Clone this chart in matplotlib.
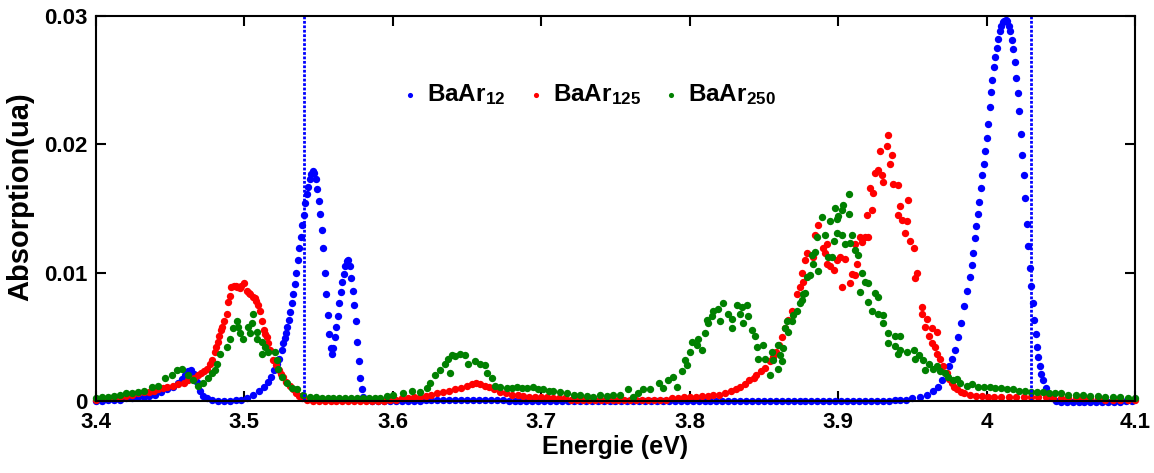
import matplotlib
matplotlib.use("Agg")
import matplotlib.pyplot as plt

plt.rcParams['font.family'] = ['Liberation Sans', 'DejaVu Sans']
plt.rcParams['font.weight'] = 'bold'
plt.rcParams['mathtext.fontset'] = 'custom'
plt.rcParams['mathtext.rm'] = 'Liberation Sans:bold'
plt.rcParams['mathtext.bf'] = 'Liberation Sans:bold'
plt.rcParams['mathtext.default'] = 'bf'

labels = ['BaAr$_{12}$', 'BaAr$_{125}$', 'BaAr$_{250}$']
colors = ['#0000ff', '#ff0000', '#008000']
cut_lines = [3.54, 4.03]
xticks = [3.4, 3.5, 3.6, 3.7, 3.8, 3.9, 4.0, 4.1]
xtick_labels = ['3.4', '3.5', '3.6', '3.7', '3.8', '3.9', '4', '4.1']
yticks = [0, 0.01, 0.02, 0.03]
ytick_labels = ['0', '0.01', '0.02', '0.03']

# BaAr12
blue_e = [
    3.400, 3.404, 3.408, 3.412, 3.416, 3.420, 3.424, 3.428, 3.432, 3.436,
    3.440, 3.444, 3.448, 3.452, 3.455, 3.458, 3.460, 3.462, 3.464, 3.466,
    3.468, 3.470, 3.472, 3.475, 3.478, 3.482, 3.486, 3.490, 3.494, 3.498,
    3.502, 3.506, 3.510, 3.513, 3.516, 3.518, 3.520, 3.522, 3.523, 3.525,
    3.526, 3.527, 3.528, 3.529, 3.530, 3.531, 3.532, 3.533, 3.534, 3.535,
    3.536, 3.537, 3.538, 3.539, 3.540, 3.541, 3.542, 3.543, 3.544, 3.545,
    3.546, 3.547, 3.548, 3.549, 3.550, 3.551, 3.552, 3.553, 3.554, 3.555,
    3.556, 3.557, 3.558, 3.559, 3.560, 3.561, 3.562, 3.563, 3.564, 3.565,
    3.566, 3.567, 3.568, 3.569, 3.570, 3.571, 3.572, 3.573, 3.574, 3.575,
    3.576, 3.577, 3.578, 3.579, 3.580, 3.582, 3.586, 3.590, 3.594, 3.598,
    3.602, 3.606, 3.610, 3.614, 3.618, 3.622, 3.626, 3.630, 3.634, 3.638,
    3.642, 3.646, 3.650, 3.654, 3.658, 3.662, 3.666, 3.670, 3.674, 3.678,
    3.682, 3.686, 3.690, 3.694, 3.698, 3.702, 3.706, 3.710, 3.714, 3.718,
    3.722, 3.726, 3.730, 3.734, 3.738, 3.742, 3.746, 3.750, 3.754, 3.758,
    3.762, 3.766, 3.770, 3.774, 3.778, 3.782, 3.786, 3.790, 3.794, 3.798,
    3.802, 3.806, 3.810, 3.814, 3.818, 3.822, 3.826, 3.830, 3.834, 3.838,
    3.842, 3.846, 3.850, 3.854, 3.858, 3.862, 3.866, 3.870, 3.874, 3.878,
    3.882, 3.886, 3.890, 3.894, 3.898, 3.902, 3.906, 3.910, 3.914, 3.918,
    3.922, 3.926, 3.930, 3.934, 3.938, 3.942, 3.946, 3.950, 3.955, 3.960,
    3.964, 3.967, 3.970, 3.973, 3.975, 3.977, 3.979, 3.981, 3.983, 3.985,
    3.987, 3.989, 3.990, 3.991, 3.992, 3.993, 3.994, 3.995, 3.996, 3.997,
    3.998, 3.999, 4.000, 4.001, 4.002, 4.003, 4.004, 4.005, 4.006, 4.007,
    4.008, 4.009, 4.010, 4.011, 4.012, 4.013, 4.014, 4.015, 4.016, 4.017,
    4.018, 4.019, 4.020, 4.021, 4.022, 4.023, 4.024, 4.025, 4.026, 4.027,
    4.028, 4.029, 4.030, 4.031, 4.032, 4.033, 4.034, 4.035, 4.036, 4.037,
    4.038, 4.040, 4.042, 4.044, 4.047, 4.050, 4.054, 4.058, 4.062, 4.066,
    4.070, 4.074, 4.078, 4.082, 4.086, 4.090, 4.094, 4.098,
]
blue_a = [
    0.0000, 0.0000, 0.0001, 0.0001, 0.0001, 0.0002, 0.0002, 0.0003, 0.0003, 0.0004,
    0.0005, 0.0007, 0.0009, 0.0011, 0.0014, 0.0017, 0.0020, 0.0023, 0.0024, 0.0021,
    0.0015, 0.0008, 0.0004, 0.0002, 0.0001, 0.0000, 0.0000, 0.0000, 0.0001, 0.0001,
    0.0002, 0.0005, 0.0008, 0.0011, 0.0015, 0.0019, 0.0024, 0.0029, 0.0033, 0.0040,
    0.0045, 0.0049, 0.0053, 0.0058, 0.0063, 0.0069, 0.0076, 0.0083, 0.0091, 0.0100,
    0.0110, 0.0119, 0.0128, 0.0137, 0.0145, 0.0154, 0.0161, 0.0167, 0.0173, 0.0177,
    0.0179, 0.0178, 0.0173, 0.0165, 0.0156, 0.0146, 0.0133, 0.0119, 0.0100, 0.0083,
    0.0067, 0.0052, 0.0041, 0.0037, 0.0041, 0.0050, 0.0058, 0.0066, 0.0076, 0.0085,
    0.0093, 0.0099, 0.0105, 0.0109, 0.0110, 0.0105, 0.0096, 0.0086, 0.0075, 0.0062,
    0.0046, 0.0031, 0.0018, 0.0009, 0.0003, 0.0001, 0.0000, 0.0000, 0.0000, 0.0000,
    0.0000, 0.0000, 0.0000, 0.0000, 0.0000, 0.0001, 0.0001, 0.0001, 0.0001, 0.0001,
    0.0001, 0.0001, 0.0001, 0.0001, 0.0001, 0.0001, 0.0001, 0.0001, 0.0001, 0.0000,
    0.0000, 0.0000, 0.0000, 0.0000, 0.0000, 0.0000, 0.0000, 0.0000, 0.0000, 0.0000,
    0.0000, 0.0000, 0.0000, 0.0000, 0.0000, 0.0000, 0.0000, 0.0000, 0.0000, 0.0000,
    0.0000, 0.0000, 0.0000, 0.0000, 0.0000, 0.0000, 0.0000, 0.0000, 0.0000, 0.0000,
    0.0000, 0.0000, 0.0000, 0.0000, 0.0000, 0.0000, 0.0000, 0.0000, 0.0000, 0.0000,
    0.0000, 0.0000, 0.0000, 0.0000, 0.0000, 0.0000, 0.0000, 0.0000, 0.0000, 0.0000,
    0.0000, 0.0000, 0.0000, 0.0000, 0.0000, 0.0000, 0.0000, 0.0000, 0.0000, 0.0000,
    0.0000, 0.0000, 0.0000, 0.0000, 0.0001, 0.0001, 0.0001, 0.0002, 0.0003, 0.0005,
    0.0008, 0.0011, 0.0016, 0.0022, 0.0027, 0.0033, 0.0040, 0.0050, 0.0061, 0.0074,
    0.0086, 0.0097, 0.0106, 0.0115, 0.0127, 0.0136, 0.0146, 0.0155, 0.0166, 0.0176,
    0.0185, 0.0195, 0.0205, 0.0216, 0.0229, 0.0241, 0.0250, 0.0260, 0.0268, 0.0275,
    0.0282, 0.0288, 0.0292, 0.0295, 0.0296, 0.0297, 0.0296, 0.0292, 0.0288, 0.0281,
    0.0274, 0.0264, 0.0252, 0.0240, 0.0226, 0.0208, 0.0192, 0.0176, 0.0158, 0.0138,
    0.0121, 0.0104, 0.0090, 0.0076, 0.0063, 0.0052, 0.0042, 0.0034, 0.0027, 0.0021,
    0.0016, 0.0010, 0.0005, 0.0002, 0.0000, -0.0001, -0.0001, -0.0001, -0.0001, -0.0001,
    -0.0001, -0.0001, -0.0001, -0.0001, -0.0001, -0.0001, 0.0000, 0.0000,
]

# BaAr125
red_e = [
    3.400, 3.404, 3.408, 3.412, 3.416, 3.420, 3.424, 3.428, 3.432, 3.436,
    3.439, 3.442, 3.445, 3.448, 3.452, 3.455, 3.459, 3.462, 3.466, 3.469,
    3.471, 3.473, 3.475, 3.477, 3.478, 3.480, 3.481, 3.482, 3.483, 3.484,
    3.485, 3.486, 3.488, 3.489, 3.490, 3.491, 3.493, 3.494, 3.495, 3.497,
    3.498, 3.500, 3.5015, 3.503, 3.504, 3.506, 3.507, 3.508, 3.509, 3.5105,
    3.512, 3.513, 3.514, 3.515, 3.516, 3.517, 3.5195, 3.521, 3.523, 3.5245,
    3.526, 3.528, 3.531, 3.533, 3.535, 3.537, 3.539, 3.542, 3.546, 3.550,
    3.554, 3.558, 3.562, 3.566, 3.570, 3.574, 3.578, 3.582, 3.586, 3.590,
    3.594, 3.598, 3.602, 3.606, 3.610, 3.614, 3.618, 3.622, 3.626, 3.630,
    3.634, 3.638, 3.642, 3.646, 3.650, 3.653, 3.656, 3.659, 3.662, 3.665,
    3.668, 3.672, 3.676, 3.680, 3.684, 3.688, 3.692, 3.696, 3.700, 3.704,
    3.708, 3.712, 3.716, 3.720, 3.724, 3.728, 3.732, 3.736, 3.740, 3.744,
    3.748, 3.752, 3.756, 3.760, 3.764, 3.768, 3.772, 3.776, 3.780, 3.784,
    3.788, 3.792, 3.796, 3.800, 3.804, 3.808, 3.812, 3.816, 3.820, 3.824,
    3.828, 3.831, 3.834, 3.837, 3.840, 3.843, 3.845, 3.848, 3.851, 3.854,
    3.856, 3.858, 3.860, 3.862, 3.864, 3.866, 3.869, 3.872, 3.8745, 3.8755,
    3.8766, 3.8777, 3.8789, 3.8834, 3.8845, 3.8867, 3.8901, 3.8912, 3.8924, 3.8924,
    3.8946, 3.8969, 3.8991, 3.9013, 3.9025, 3.9047, 3.9081, 3.9092, 3.9114, 3.9114,
    3.9126, 3.9148, 3.9160, 3.9182, 3.9193, 3.9204, 3.9216, 3.9227, 3.9238, 3.9249,
    3.9272, 3.9283, 3.9294, 3.9305, 3.9328, 3.9339, 3.9351, 3.9362, 3.9373, 3.9406,
    3.9406, 3.9418, 3.9429, 3.9452, 3.9463, 3.9474, 3.9486, 3.9508, 3.9519, 3.9530,
    3.9564, 3.9564, 3.9586, 3.9598, 3.9609, 3.9631, 3.9631, 3.9654, 3.9665, 3.9665,
    3.9687, 3.9710, 3.9732, 3.9750, 3.9766, 3.9780, 3.9800, 3.9825, 3.9845, 3.9889,
    3.993, 3.997, 4.001, 4.005, 4.010, 4.015, 4.020, 4.025, 4.030, 4.035,
    4.040, 4.045, 4.050, 4.055, 4.060, 4.065, 4.070, 4.075, 4.080, 4.085,
    4.090, 4.095, 4.100,
]
red_a = [
    0.0001, 0.0002, 0.0002, 0.0003, 0.0003, 0.0004, 0.0005, 0.0006, 0.0007, 0.0007,
    0.0008, 0.0009, 0.0010, 0.0011, 0.0012, 0.0013, 0.0014, 0.0016, 0.0018, 0.0020,
    0.0022, 0.0023, 0.0025, 0.0029, 0.0032, 0.0038, 0.0042, 0.0046, 0.0051, 0.0055,
    0.0058, 0.0062, 0.0068, 0.0077, 0.0082, 0.0089, 0.0090, 0.0090, 0.0089, 0.0088,
    0.0090, 0.0092, 0.0086, 0.0084, 0.0083, 0.0081, 0.0080, 0.0078, 0.0075, 0.0070,
    0.0062, 0.0055, 0.0052, 0.0050, 0.0045, 0.0040, 0.0032, 0.0028, 0.0024, 0.0021,
    0.0019, 0.0015, 0.0012, 0.0009, 0.0006, 0.0004, 0.0002, 0.0001, 0.0000, 0.0000,
    0.0000, 0.0000, 0.0000, 0.0000, 0.0000, 0.0000, 0.0000, 0.0000, 0.0000, 0.0000,
    0.0000, 0.0001, 0.0001, 0.0002, 0.0002, 0.0003, 0.0003, 0.0004, 0.0005, 0.0006,
    0.0007, 0.0008, 0.0009, 0.0010, 0.0012, 0.0013, 0.0014, 0.0013, 0.0012, 0.0011,
    0.0009, 0.0007, 0.0006, 0.0005, 0.0005, 0.0004, 0.0003, 0.0003, 0.0003, 0.0003,
    0.0002, 0.0002, 0.0002, 0.0001, 0.0001, 0.0001, 0.0001, 0.0001, 0.0001, 0.0001,
    0.0001, 0.0001, 0.0001, 0.0001, 0.0001, 0.0001, 0.0001, 0.0001, 0.0001, 0.0001,
    0.0002, 0.0002, 0.0003, 0.0003, 0.0003, 0.0004, 0.0004, 0.0005, 0.0005, 0.0006,
    0.0008, 0.0009, 0.0011, 0.0013, 0.0016, 0.0018, 0.0020, 0.0023, 0.0026, 0.0031,
    0.0034, 0.0038, 0.0044, 0.0050, 0.0057, 0.0063, 0.0070, 0.0083, 0.0089, 0.0100,
    0.0093, 0.0110, 0.0115, 0.0112, 0.0129, 0.0137, 0.0119, 0.0115, 0.0122, 0.0107,
    0.0105, 0.0102, 0.0110, 0.0112, 0.0089, 0.0111, 0.0092, 0.0099, 0.0098, 0.0122,
    0.0107, 0.0128, 0.0124, 0.0128, 0.0145, 0.0128, 0.0166, 0.0149, 0.0162, 0.0178,
    0.0180, 0.0195, 0.0176, 0.0171, 0.0199, 0.0207, 0.0185, 0.0192, 0.0169, 0.0168,
    0.0145, 0.0152, 0.0141, 0.0131, 0.0140, 0.0157, 0.0125, 0.0119, 0.0096, 0.0100,
    0.0073, 0.0068, 0.0058, 0.0064, 0.0051, 0.0057, 0.0045, 0.0042, 0.0054, 0.0037,
    0.0033, 0.0027, 0.0022, 0.0017, 0.0014, 0.0011, 0.0009, 0.0007, 0.0006, 0.0005,
    0.0004, 0.0004, 0.0003, 0.0003, 0.0003, 0.0003, 0.0003, 0.0003, 0.0003, 0.0003,
    0.0003, 0.0002, 0.0002, 0.0002, 0.0002, 0.0002, 0.0002, 0.0002, 0.0001, 0.0001,
    0.0001, 0.0001, 0.0001,
]

# BaAr250
green_e = [
    3.400, 3.404, 3.408, 3.412, 3.416, 3.420, 3.424, 3.428, 3.432, 3.4375,
    3.442, 3.4465, 3.451, 3.4544, 3.4577, 3.4622, 3.4656, 3.4689, 3.4723, 3.4757,
    3.478, 3.4802, 3.4813, 3.4836, 3.4881, 3.4903, 3.4925, 3.4948, 3.4959, 3.497,
    3.4993, 3.5026, 3.5038, 3.5049, 3.506, 3.5083, 3.5083, 3.5117, 3.5117, 3.5139,
    3.5161, 3.5206, 3.5218, 3.5229, 3.5251, 3.5285, 3.5319, 3.5352, 3.5397, 3.544,
    3.548, 3.552, 3.556, 3.560, 3.564, 3.568, 3.572, 3.576, 3.580, 3.584,
    3.588, 3.5914, 3.596, 3.6003, 3.6071, 3.6127, 3.6183, 3.6228, 3.625, 3.6284,
    3.6318, 3.6352, 3.6374, 3.6385, 3.6397, 3.6419, 3.6453, 3.6487, 3.6509, 3.6554,
    3.6588, 3.6621, 3.6633, 3.6667, 3.6689, 3.6722, 3.6768, 3.680, 3.6835, 3.687,
    3.6902, 3.6947, 3.698, 3.7014, 3.705, 3.7082, 3.7125, 3.7172, 3.722, 3.7261,
    3.731, 3.7351, 3.7396, 3.744, 3.7486, 3.753, 3.7587, 3.762, 3.765, 3.7688,
    3.7733, 3.779, 3.7823, 3.7857, 3.789, 3.7913, 3.7947, 3.7969, 3.798, 3.8003,
    3.8014, 3.8048, 3.8059, 3.8081, 3.8104, 3.8115, 3.8126, 3.8149, 3.816, 3.8194,
    3.8205, 3.8227, 3.8261, 3.8283, 3.8283, 3.8317, 3.834, 3.8351, 3.8362, 3.8385,
    3.8396, 3.8418, 3.8441, 3.8452, 3.8463, 3.8497, 3.8508, 3.8542, 3.8553, 3.8564,
    3.8598, 3.8598, 3.8609, 3.862, 3.8631, 3.8643, 3.8654, 3.8665, 3.8688, 3.8699,
    3.8721, 3.8744, 3.8755, 3.8766, 3.8777, 3.8789, 3.881, 3.8822, 3.8834, 3.8845,
    3.8856, 3.8867, 3.889, 3.8912, 3.8935, 3.8946, 3.8957, 3.8969, 3.8979, 3.8991,
    3.8991, 3.9002, 3.9025, 3.9025, 3.9036, 3.9047, 3.907, 3.907, 3.9081, 3.9092,
    3.9114, 3.9137, 3.9148, 3.916, 3.9182, 3.9204, 3.9204, 3.9227, 3.9249, 3.9272,
    3.9272, 3.9305, 3.9305, 3.9339, 3.9339, 3.9384, 3.9384, 3.9406, 3.9418, 3.9418,
    3.9463, 3.9508, 3.9519, 3.9542, 3.9575, 3.9586, 3.9609, 3.9642, 3.9665, 3.9687,
    3.9721, 3.9743, 3.9777, 3.980, 3.9822, 3.9867, 3.990, 3.994, 3.998, 4.002,
    4.006, 4.010, 4.014, 4.018, 4.022, 4.026, 4.030, 4.034, 4.038, 4.042,
    4.046, 4.050, 4.055, 4.060, 4.065, 4.070, 4.075, 4.080, 4.085, 4.090,
    4.095, 4.100,
]
green_a = [
    0.0002, 0.0003, 0.0003, 0.0004, 0.0005, 0.0006, 0.0006, 0.0007, 0.0008, 0.0011,
    0.0012, 0.0018, 0.0020, 0.0024, 0.0025, 0.0020, 0.0016, 0.0012, 0.0014, 0.0018,
    0.0022, 0.0024, 0.0029, 0.0037, 0.0042, 0.0048, 0.0057, 0.0062, 0.0058, 0.0053,
    0.0048, 0.0058, 0.0053, 0.0061, 0.0068, 0.0054, 0.0048, 0.0046, 0.0037, 0.0042,
    0.0038, 0.0038, 0.0032, 0.0025, 0.0019, 0.0014, 0.0010, 0.0009, 0.0005, 0.0003,
    0.0003, 0.0002, 0.0002, 0.0002, 0.0002, 0.0002, 0.0002, 0.0002, 0.0002, 0.0002,
    0.0002, 0.0002, 0.0004, 0.0005, 0.0006, 0.0008, 0.0007, 0.0010, 0.0014, 0.0020,
    0.0024, 0.0029, 0.0033, 0.0022, 0.0036, 0.0035, 0.0037, 0.0036, 0.0029, 0.0031,
    0.0029, 0.0028, 0.0022, 0.0018, 0.0012, 0.0011, 0.0010, 0.0010, 0.0011, 0.0010,
    0.0010, 0.0011, 0.0009, 0.0009, 0.0008, 0.0008, 0.0007, 0.0006, 0.0005, 0.0005,
    0.0004, 0.0003, 0.0005, 0.0004, 0.0005, 0.0005, 0.0009, 0.0003, 0.0006, 0.0009,
    0.0009, 0.0014, 0.0010, 0.0016, 0.0019, 0.0011, 0.0023, 0.0032, 0.0028, 0.0038,
    0.0046, 0.0044, 0.0048, 0.0040, 0.0053, 0.0063, 0.0061, 0.0066, 0.0070, 0.0072,
    0.0062, 0.0076, 0.0068, 0.0057, 0.0064, 0.0075, 0.0068, 0.0073, 0.0061, 0.0075,
    0.0066, 0.0055, 0.0051, 0.0042, 0.0033, 0.0044, 0.0033, 0.0020, 0.0038, 0.0032,
    0.0044, 0.0025, 0.0036, 0.0031, 0.0041, 0.0057, 0.0062, 0.0054, 0.0062, 0.0067,
    0.0070, 0.0076, 0.0079, 0.0083, 0.0084, 0.0097, 0.0098, 0.0114, 0.0107, 0.0116,
    0.0128, 0.0101, 0.0143, 0.0129, 0.0112, 0.0140, 0.0112, 0.0125, 0.0150, 0.0142,
    0.0131, 0.0144, 0.0149, 0.0129, 0.0153, 0.0122, 0.0161, 0.0146, 0.0123, 0.0129,
    0.0118, 0.0114, 0.0085, 0.0100, 0.0093, 0.0092, 0.0077, 0.0070, 0.0084, 0.0081,
    0.0068, 0.0067, 0.0061, 0.0053, 0.0045, 0.0051, 0.0043, 0.0037, 0.0051, 0.0040,
    0.0038, 0.0040, 0.0033, 0.0036, 0.0032, 0.0024, 0.0029, 0.0025, 0.0027, 0.0023,
    0.0022, 0.0019, 0.0016, 0.0017, 0.0014, 0.0012, 0.0013, 0.0011, 0.0011, 0.0011,
    0.0010, 0.0010, 0.0009, 0.0009, 0.0008, 0.0008, 0.0007, 0.0007, 0.0007, 0.0006,
    0.0006, 0.0006, 0.0005, 0.0005, 0.0005, 0.0004, 0.0004, 0.0003, 0.0003, 0.0003,
    0.0002, 0.0002,
]

fig = plt.figure(figsize=(11.54, 4.73), dpi=100)
ax = fig.add_axes([0.0832, 0.1522, 0.9003, 0.8140])

series = [(blue_e, blue_a), (red_e, red_a), (green_e, green_a)]
for (e, a), c, lab in zip(series, colors, labels):
    ax.scatter(e, a, s=28, color=c, linewidths=0, label=lab, clip_on=False, zorder=3)

for xv in cut_lines:
    ax.axvline(xv, color='#0000ff', lw=2, ls=(0, (1, 0.6)), zorder=4)

ax.set_xlim(3.4, 4.1)
ax.set_ylim(0, 0.03)
ax.set_xticks(xticks)
ax.set_xticklabels(xtick_labels)
ax.set_yticks(yticks)
ax.set_yticklabels(ytick_labels)
ax.tick_params(direction='in', length=7, width=1.5, top=True, right=True,
               labelsize=16)
ax.tick_params(axis='x', pad=8)
ax.tick_params(axis='y', pad=6)
for sp in ax.spines.values():
    sp.set_linewidth(1.5)
    sp.set_zorder(5)

ax.set_xlabel('Energie (eV)', fontsize=18, fontweight='bold', labelpad=1)
ax.set_ylabel('Absorption(ua)', fontsize=21, fontweight='bold')
ax.yaxis.set_label_coords(-0.059, 0.532)

ax.legend(loc='center', bbox_to_anchor=(0.472, 0.795), ncol=3, frameon=False,
          fontsize=17.5, markerscale=0.7, handletextpad=0.15, columnspacing=0.7,
          handlelength=1.1, scatterpoints=1)

fig.savefig('out.png', dpi=100)
